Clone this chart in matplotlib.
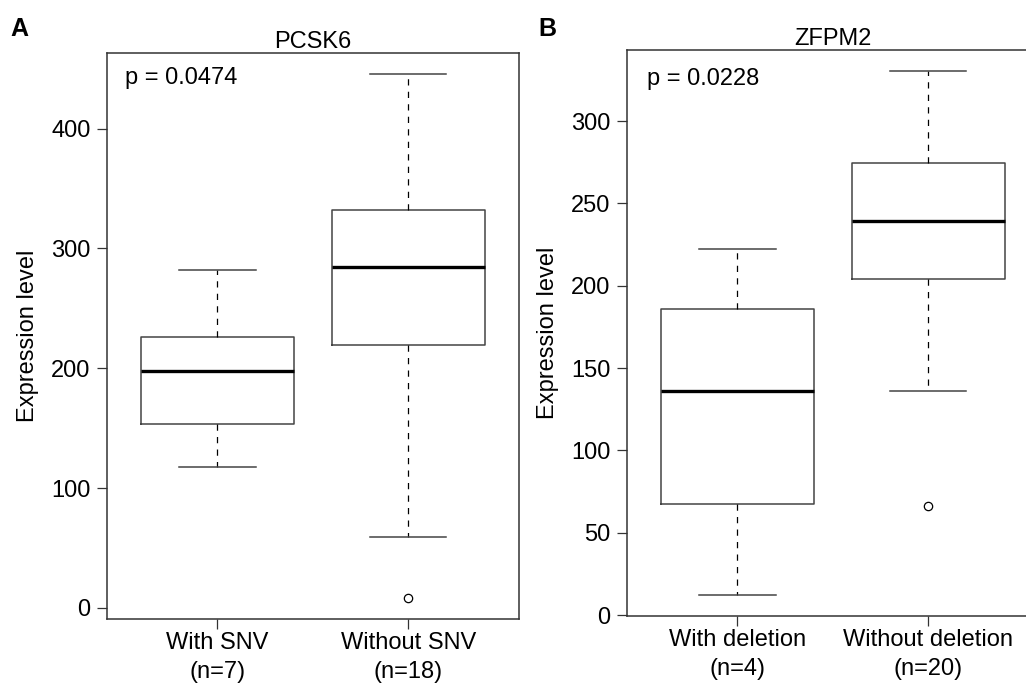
import matplotlib
matplotlib.use("Agg")
import matplotlib.pyplot as plt

plt.rcParams["font.family"] = ["Liberation Sans", "DejaVu Sans"]
plt.rcParams["font.size"] = 17

# PCSK6 expression by SNV status (box summaries)
pcsk6_labels = ["With SNV\n(n=7)", "Without SNV\n(n=18)"]
pcsk6_whislo = [117.3, 59.5]
pcsk6_q1 = [153.5, 219.6]
pcsk6_med = [197.4, 284.2]
pcsk6_q3 = [226.3, 332.2]
pcsk6_whishi = [281.9, 445.4]
pcsk6_fliers = [[], [8.3]]
pcsk6_p = "p = 0.0474"

# ZFPM2 expression by deletion status (box summaries)
zfpm2_labels = ["With deletion\n(n=4)", "Without deletion\n(n=20)"]
zfpm2_whislo = [12.1, 136.0]
zfpm2_q1 = [67.4, 204.0]
zfpm2_med = [136.2, 239.1]
zfpm2_q3 = [186.2, 274.7]
zfpm2_whishi = [222.5, 330.2]
zfpm2_fliers = [[], [66.2]]
zfpm2_p = "p = 0.0228"

W, H = 1026, 683
FS = 17
fig = plt.figure(figsize=(W / 100, H / 100), dpi=100)


def px_axes(left, top, right, bottom):
    return fig.add_axes([left / W, 1 - bottom / H, (right - left) / W, (bottom - top) / H])


def draw_panel(ax, labels, whislo, q1, med, q3, whishi, fliers, title, ptext,
               ylim, yticks, ptxt_xy, ylabel_x):
    stats = []
    for i in range(len(labels)):
        stats.append(dict(whislo=whislo[i], q1=q1[i], med=med[i], q3=q3[i],
                          whishi=whishi[i], fliers=fliers[i], label=labels[i]))
    ax.bxp(stats, positions=[1, 2], widths=0.8, showfliers=True,
           boxprops=dict(color="#444444", linewidth=1.1),
           medianprops=dict(color="black", linewidth=2.4, solid_capstyle="butt"),
           whiskerprops=dict(color="black", linewidth=0.9, linestyle=(0, (5, 5))),
           capprops=dict(color="#444444", linewidth=1.1),
           capwidths=0.4,
           flierprops=dict(marker="o", markersize=6, markerfacecolor="none",
                           markeredgecolor="black", markeredgewidth=0.9))
    ax.set_xlim(0.42, 2.58)
    ax.set_ylim(*ylim)
    ax.set_yticks(yticks)
    ax.set_yticklabels([str(t) for t in yticks])
    ax.set_xticks([1, 2])
    ax.set_xticklabels(labels, linespacing=1.4)
    ax.tick_params(axis="y", length=7.5, width=0.9, pad=4, color="#333333", labelsize=FS)
    ax.tick_params(axis="x", length=7.5, width=0.9, pad=2, color="#333333", labelsize=FS)
    for s in ax.spines.values():
        s.set_color("#333333")
        s.set_linewidth(1.1)
    ax.set_title(title, fontsize=FS, pad=2)
    ax.set_ylabel("Expression level", fontsize=FS)
    ax.yaxis.set_label_coords(ylabel_x, 0.5)
    ax.text(ptxt_xy[0], ptxt_xy[1], ptext, transform=ax.transAxes,
            ha="left", va="center", fontsize=FS)


axA = px_axes(106.7, 53.3, 519.0, 619.0)
draw_panel(axA, pcsk6_labels, pcsk6_whislo, pcsk6_q1, pcsk6_med, pcsk6_q3,
           pcsk6_whishi, pcsk6_fliers, "PCSK6", pcsk6_p,
           (-9.2, 462.9), [0, 100, 200, 300, 400], (0.044, 0.956), -0.165)

axB = px_axes(626.7, 50.3, 1039.0, 616.0)
draw_panel(axB, zfpm2_labels, zfpm2_whislo, zfpm2_q1, zfpm2_med, zfpm2_q3,
           zfpm2_whishi, zfpm2_fliers, "ZFPM2", zfpm2_p,
           (-0.5, 343.0), [0, 50, 100, 150, 200, 250, 300], (0.0485, 0.949), -0.163)

fig.text(10 / W, 1 - 17 / H, "A", fontsize=18, fontweight="bold", ha="left", va="top")
fig.text(538 / W, 1 - 17 / H, "B", fontsize=18, fontweight="bold", ha="left", va="top")

fig.savefig("out.png", dpi=100)
